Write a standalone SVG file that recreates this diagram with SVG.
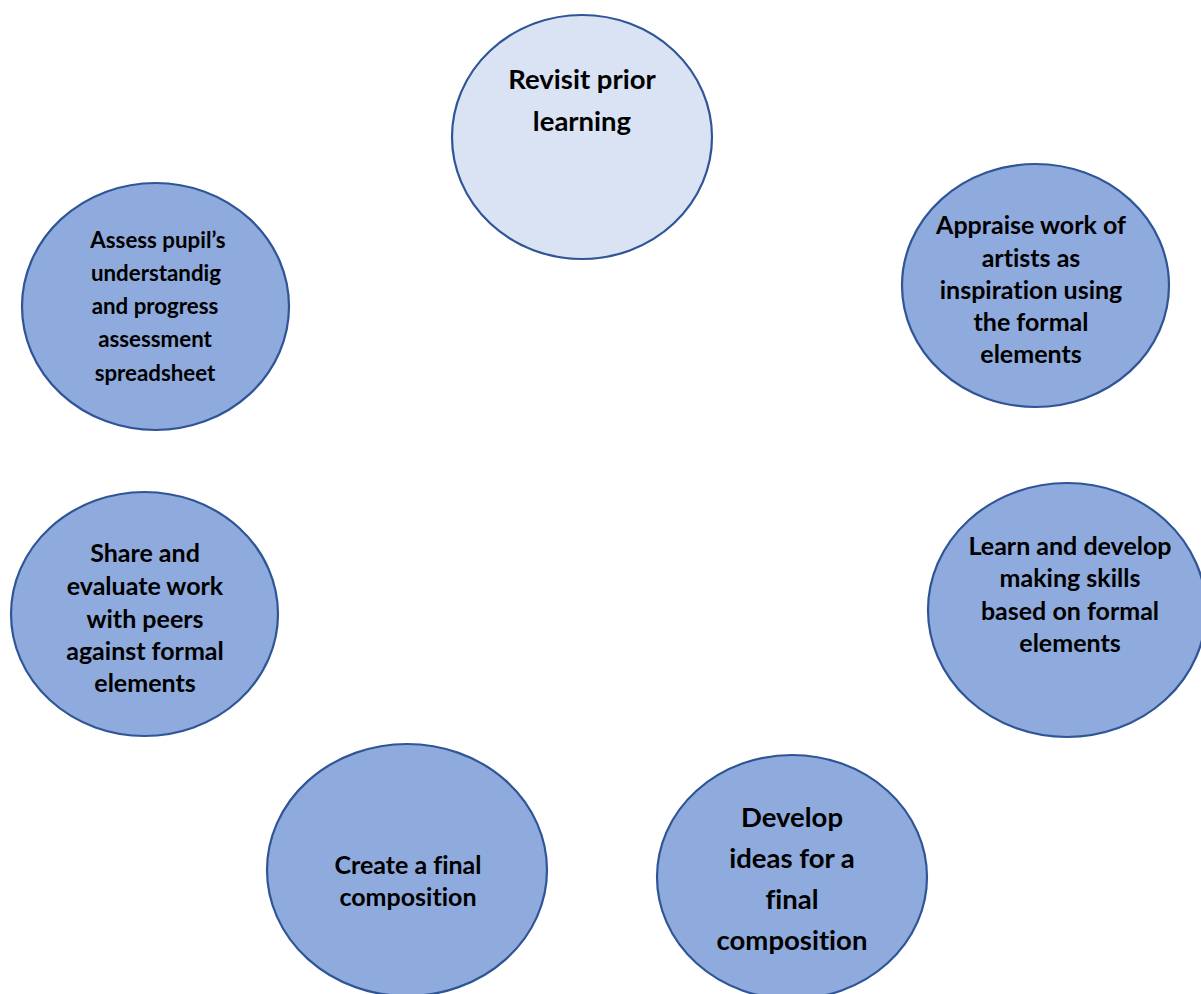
<svg xmlns="http://www.w3.org/2000/svg" width="1201" height="994" viewBox="0 0 1201 994">
<style>
.n{fill:#8faadc;stroke:#2f5597;stroke-width:2.2}
.light{fill:#dae3f3}
text{font-family:Lato,"Open Sans","Liberation Sans",sans-serif;font-weight:bold;fill:#000;text-anchor:middle;font-variant-ligatures:none}
.s19{font-size:22.3px}
.s21{font-size:25px}
.s24{font-size:27.5px}
</style>
<rect width="1201" height="994" fill="#fff"/>
<g id="connectors"/>
<g id="n-revisit">
<ellipse class="n light" cx="582" cy="137" rx="130" ry="122"/>
<text class="s24" x="582" y="89">Revisit prior</text>
<text class="s24" x="582" y="131">learning</text>
</g>
<g id="n-assess">
<ellipse class="n" cx="155.5" cy="306.5" rx="133.5" ry="123.5"/>
<text class="s19" x="158" y="248">Assess pupil’s</text>
<text class="s19" x="156" y="281">understandig</text>
<text class="s19" x="155" y="314">and progress</text>
<text class="s19" x="155" y="347">assessment</text>
<text class="s19" x="155" y="381">spreadsheet</text>
</g>
<g id="n-appraise">
<ellipse class="n" cx="1035.5" cy="285.5" rx="133.5" ry="121.5"/>
<text class="s21" x="1031" y="234">Appraise work of</text>
<text class="s21" x="1031" y="267">artists as</text>
<text class="s21" x="1031" y="299">inspiration using</text>
<text class="s21" x="1031" y="331">the formal</text>
<text class="s21" x="1031" y="363">elements</text>
</g>
<g id="n-learn">
<ellipse class="n" cx="1067" cy="610" rx="139" ry="127"/>
<text class="s21" x="1070" y="555">Learn and develop</text>
<text class="s21" x="1070" y="587">making skills</text>
<text class="s21" x="1070" y="620">based on formal</text>
<text class="s21" x="1070" y="652">elements</text>
</g>
<g id="n-share">
<ellipse class="n" cx="144.5" cy="614" rx="133.5" ry="122"/>
<text class="s21" x="145" y="562">Share and</text>
<text class="s21" x="145" y="595">evaluate work</text>
<text class="s21" x="145" y="628">with peers</text>
<text class="s21" x="145" y="660">against formal</text>
<text class="s21" x="145" y="692">elements</text>
</g>
<g id="n-create">
<ellipse class="n" cx="407" cy="870" rx="140" ry="126"/>
<text class="s21" x="408" y="874">Create a final</text>
<text class="s21" x="408" y="906">composition</text>
</g>
<g id="n-develop">
<ellipse class="n" cx="792" cy="877" rx="135" ry="122"/>
<text class="s24" x="792" y="827">Develop</text>
<text class="s24" x="792" y="868">ideas for a</text>
<text class="s24" x="792" y="909">final</text>
<text class="s24" x="792" y="950">composition</text>
</g>
</svg>
